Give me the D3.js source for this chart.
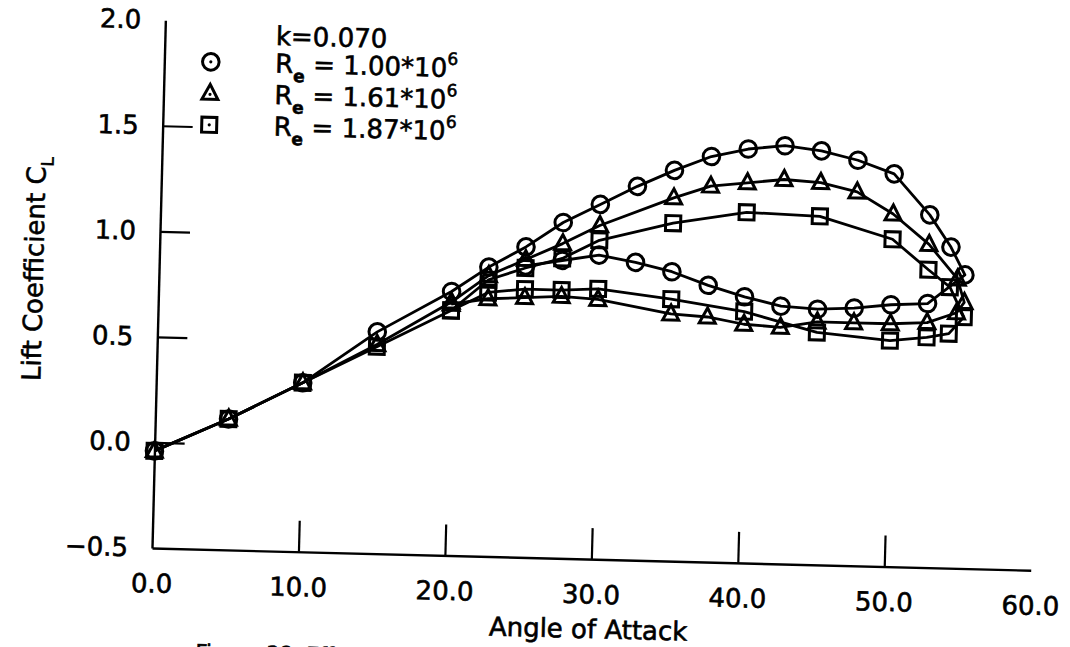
<!DOCTYPE html>
<html><head><meta charset="utf-8">
<script src="https://cdn.jsdelivr.net/npm/d3@7"></script>
<style>
html,body{margin:0;padding:0;background:#fff;}
svg{display:block;}
</style></head><body>
<svg id="chart" width="1070" height="647"></svg>
<script>
// ---- data ----
const xTicks = [0, 10, 20, 30, 40, 50, 60];
const yTicks = [-0.5, 0, 0.5, 1.0, 1.5, 2.0];

// Re = 1.00e6 (circles): increasing alpha, then decreasing branch
const circleAlpha = [0, 5, 10, 15, 20, 22.5, 25, 27.5, 30, 32.5, 35, 37.5, 40, 42.5, 45, 47.5, 50, 52.5, 54, 55,
                     52.5, 50, 47.5, 45, 42.5, 40, 37.5, 35, 32.5, 30, 27.5, 25];
const circleCL    = [-0.04, 0.12, 0.30, 0.55, 0.75, 0.87, 0.97, 1.09, 1.18, 1.27, 1.35, 1.42, 1.46, 1.48, 1.46, 1.42, 1.36, 1.17, 1.02, 0.89,
                     0.75, 0.74, 0.72, 0.71, 0.72, 0.76, 0.81, 0.87, 0.91, 0.94, 0.91, 0.88];

// Re = 1.61e6 (triangles)
const triangleAlpha = [0, 5, 10, 15, 20, 22.5, 25, 27.5, 30, 35, 37.5, 40, 42.5, 45, 47.5, 50, 52.5, 54.5, 55,
                       54.5, 52.5, 50, 47.5, 45, 42.5, 40, 37.5, 35, 30, 27.5, 25, 22.5, 20];
const triangleCL    = [-0.04, 0.12, 0.30, 0.49, 0.70, 0.83, 0.91, 0.99, 1.08, 1.22, 1.28, 1.30, 1.32, 1.31, 1.27, 1.17, 1.03, 0.87, 0.76,
                       0.71, 0.66, 0.65, 0.65, 0.65, 0.62, 0.63, 0.66, 0.67, 0.73, 0.74, 0.73, 0.72, 0.69];

// Re = 1.87e6 (squares)
const squareAlpha = [0, 5, 10, 15, 20, 22.5, 25, 27.5, 30, 35, 40, 45, 50, 52.5, 54, 55,
                     54, 52.5, 50, 45, 40, 35, 30, 27.5, 25, 22.5, 20];
const squareCL    = [-0.04, 0.12, 0.30, 0.48, 0.66, 0.81, 0.87, 0.92, 1.01, 1.10, 1.16, 1.15, 1.05, 0.91, 0.83, 0.69,
                     0.61, 0.59, 0.57, 0.60, 0.69, 0.74, 0.78, 0.77, 0.77, 0.75, 0.66];

const seriesMarkers = ["circle", "triangle", "square"];
const seriesRe = ["1.00", "1.61", "1.87"];
const kLabel = "k=0.070";
const xTitle = "Angle of Attack";
const yTitle = "Lift Coefficient C";
const yTitleSub = "L";
const caption = "Figure 38. Effect";

// ---- layout ----
const W = 879, H = 528;
const FONT = "'DejaVu Sans', sans-serif";
const TXT_STROKE = 0.6;
const svg = d3.select("#chart");
svg.append("rect").attr("width", 1070).attr("height", 647).attr("fill", "#fff");
const g = svg.append("g").attr("transform", "translate(152,548) rotate(1.45)");

const x = d3.scaleLinear().domain([0, 60]).range([0, W]);
const y = d3.scaleLinear().domain([-0.5, 2.0]).range([0, -H]);

const fmt = d => (d < 0 ? "\u2212" : "") + Math.abs(d).toFixed(1);
const heavy = s => s.attr("stroke", "#000").attr("stroke-width", TXT_STROKE).attr("fill", "#000");

// x axis
const gx = g.append("g")
  .call(d3.axisBottom(x).tickValues(xTicks).tickFormat(fmt)
        .tickSizeInner(-31).tickSizeOuter(0).tickPadding(26))
  .attr("font-family", FONT).attr("font-size", 26);
gx.selectAll(".tick line").filter(d => d === 0 || d === 60).remove();
gx.select(".domain").attr("stroke-width", 2.4);
gx.selectAll(".tick line").attr("stroke-width", 2.2);
heavy(gx.selectAll("text"));

// y axis
const gy = g.append("g")
  .call(d3.axisLeft(y).tickValues(yTicks).tickFormat(fmt)
        .tickSizeInner(-30).tickSizeOuter(0).tickPadding(24))
  .attr("font-family", FONT).attr("font-size", 26);
gy.selectAll(".tick line").filter(d => d === -0.5 || d === 2.0).remove();
gy.select(".domain").attr("stroke-width", 2.4);
gy.selectAll(".tick line").attr("stroke-width", 2.2);
heavy(gy.selectAll("text"));

// titles
heavy(g.append("text").attr("x", x(29.9)).attr("y", 79).attr("text-anchor", "middle")
  .attr("font-family", FONT).attr("font-size", 26).text(xTitle));

const yt = g.append("text").attr("transform", "translate(-116,-276) rotate(-90)")
  .attr("text-anchor", "middle").attr("font-family", FONT).attr("font-size", 26);
heavy(yt);
yt.append("tspan").text(yTitle);
yt.append("tspan").attr("font-size", 17).attr("dy", 8).text(yTitleSub);

// caption (cut by the bottom edge, as in the scanned page)
heavy(g.append("text").attr("x", 46).attr("y", 110).attr("font-family", FONT).attr("font-size", 21).text(caption));

// markers
function marker(sel, type, cx, cy) {
  const common = s => s.attr("fill", "none").attr("stroke", "#000").attr("stroke-width", 3);
  if (type === "circle") {
    common(sel.append("circle").attr("cx", cx).attr("cy", cy).attr("r", 8.3));
  } else if (type === "square") {
    common(sel.append("rect").attr("x", cx - 7.5).attr("y", cy - 7.5).attr("width", 15).attr("height", 15));
  } else {
    common(sel.append("path").attr("d", `M${cx},${cy - 9}L${cx + 8},${cy + 6}L${cx - 8},${cy + 6}Z`));
  }
}

const series = [
  {alpha: circleAlpha, cl: circleCL},
  {alpha: triangleAlpha, cl: triangleCL},
  {alpha: squareAlpha, cl: squareCL}
];
const line = d3.line().x(d => x(d[0])).y(d => y(d[1]));

series.forEach((s, i) => {
  const pts = s.alpha.map((a, j) => [a, s.cl[j]]);
  g.append("path").datum(pts).attr("d", line).attr("fill", "none")
    .attr("stroke", "#000").attr("stroke-width", 2.8).attr("stroke-linejoin", "round");
  const mg = g.append("g");
  pts.forEach(p => marker(mg, seriesMarkers[i], x(p[0]), y(p[1])));
});

// legend
const lg = g.append("g").attr("font-family", FONT).attr("font-size", 26);
heavy(lg.append("text").attr("x", 111).attr("y", -506).text(kLabel));
const rowV = [-487.5, -456, -424.5];
seriesMarkers.forEach((m, i) => {
  marker(lg, m, 46.5, rowV[i]);
  lg.append("circle").attr("cx", 46.5).attr("cy", rowV[i] + (m === "triangle" ? 1 : 0)).attr("r", 1.6).attr("fill", "#000");
  const t = lg.append("text").attr("x", 111).attr("y", rowV[i] + 9);
  heavy(t);
  t.append("tspan").text("R");
  t.append("tspan").attr("font-size", 17).attr("font-weight", "bold").attr("dy", 9).text("e");
  t.append("tspan").attr("dy", -9).text(" = " + seriesRe[i] + "*10");
  t.append("tspan").attr("font-size", 17).attr("dy", -12).text("6");
});
</script>
</body></html>
